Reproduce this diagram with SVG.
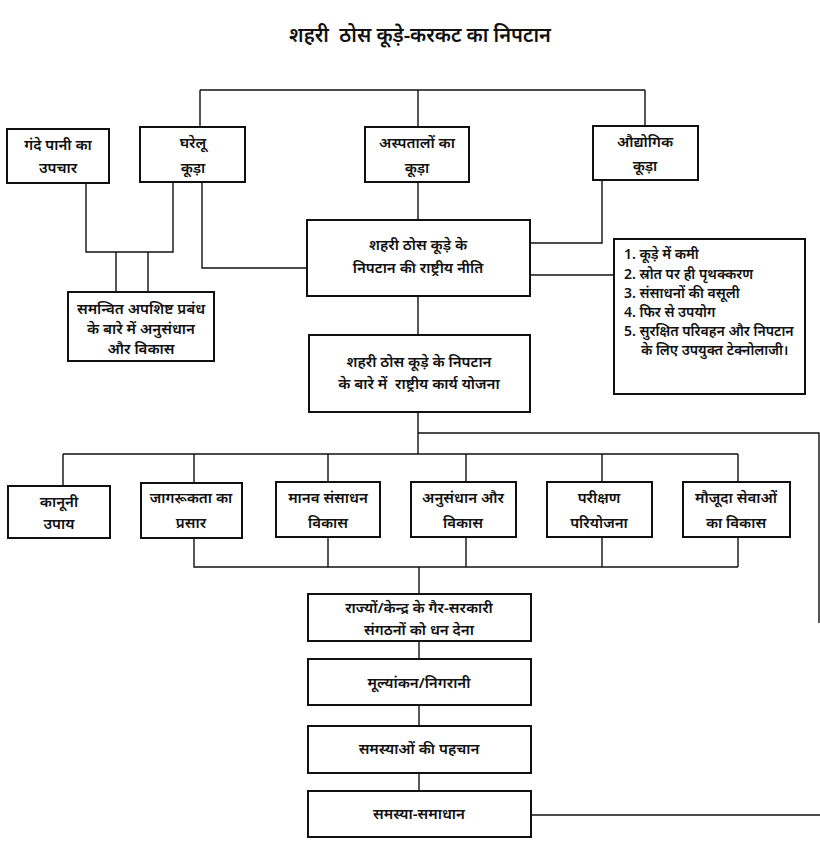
<svg xmlns="http://www.w3.org/2000/svg" width="820" height="850" viewBox="0 0 820 850">
<style>
  .bg { fill: #ffffff; }
  .box { fill: #ffffff; stroke: #111; stroke-width: 2; }
  .ln { fill: none; stroke: #111; stroke-width: 1.4; }
  .t { font-family: "Noto Sans", "Noto Sans Devanagari", "Liberation Sans", sans-serif; font-size: 15px; fill: #111; text-anchor: middle; font-weight: 600; }
  .tl { font-family: "Noto Sans", "Noto Sans Devanagari", "Liberation Sans", sans-serif; font-size: 14px; fill: #111; text-anchor: start; font-weight: 600; }
  .title { font-family: "Noto Sans", "Noto Sans Devanagari", "Liberation Sans", sans-serif; font-size: 20px; fill: #111; text-anchor: middle; font-weight: 600; }
</style>
<rect class="bg" x="0" y="0" width="820" height="850"/>
<text class="title" x="420" y="42" xml:space="preserve">शहरी  ठोस कूड़े-करकट का निपटान</text>

<g id="connectors">
  <path class="ln" d="M200,90 H645 M200,90 V127 M418,90 V127 M645,90 V126"/>
  <path class="ln" d="M418,182 V220"/>
  <path class="ln" d="M602,180 V243 H530"/>
  <path class="ln" d="M202,182 V268 H307"/>
  <path class="ln" d="M530,275 H614"/>
  <path class="ln" d="M86,183 V252 H173 V182 M116,252 V292 M148,252 V292"/>
  <path class="ln" d="M418,296 V335"/>
  <path class="ln" d="M418,412 V454 M418,433 H819 V623"/>
  <path class="ln" d="M63,454 H738 M63,454 V486 M194,454 V483 M328,454 V482 M466,454 V482 M602,454 V482 M738,454 V482"/>
  <path class="ln" d="M194,538 V567 H738 M328,537 V567 M466,537 V567 M602,537 V567 M738,537 V567 M419,567 V594"/>
  <path class="ln" d="M419,641 V659 M419,705 V726 M419,773 V791"/>
  <path class="ln" d="M531,815 H820"/>
</g>

<g id="n-sewage">
  <rect class="box" x="7" y="129" width="102" height="54"/>
  <text class="t" x="58" y="150">गंदे पानी का</text>
  <text class="t" x="58" y="173">उपचार</text>
</g>
<g id="n-domestic">
  <rect class="box" x="140" y="127" width="105" height="55"/>
  <text class="t" x="193" y="148">घरेलू</text>
  <text class="t" x="193" y="173">कूड़ा</text>
</g>
<g id="n-hospital">
  <rect class="box" x="365" y="127" width="104" height="55"/>
  <text class="t" x="417" y="148">अस्पतालों का</text>
  <text class="t" x="417" y="173">कूड़ा</text>
</g>
<g id="n-industrial">
  <rect class="box" x="593" y="126" width="105" height="54"/>
  <text class="t" x="645" y="147">औद्योगिक</text>
  <text class="t" x="645" y="171">कूड़ा</text>
</g>
<g id="n-policy">
  <rect class="box" x="307" y="220" width="223" height="76"/>
  <text class="t" x="418" y="250">शहरी ठोस कूड़े के</text>
  <text class="t" x="418" y="273">निपटान की राष्ट्रीय नीति</text>
</g>
<g id="n-list">
  <rect class="box" x="614" y="239" width="191" height="155"/>
  <text class="tl" x="624" y="259">1. कूड़े में कमी</text>
  <text class="tl" x="624" y="279">2. स्रोत पर ही पृथक्करण</text>
  <text class="tl" x="624" y="298">3. संसाधनों की वसूली</text>
  <text class="tl" x="624" y="317">4. फिर से उपयोग</text>
  <text class="tl" x="624" y="336">5. सुरक्षित परिवहन और निपटान</text>
  <text class="tl" x="641" y="355">के लिए उपयुक्त टेक्नोलाजी।</text>
</g>
<g id="n-research-left">
  <rect class="box" x="68" y="292" width="146" height="69"/>
  <text class="t" x="141" y="314">समन्वित अपशिष्ट प्रबंध</text>
  <text class="t" x="141" y="334">के बारे में अनुसंधान</text>
  <text class="t" x="141" y="354">और विकास</text>
</g>
<g id="n-plan">
  <rect class="box" x="309" y="335" width="221" height="77"/>
  <text class="t" x="419" y="367">शहरी ठोस कूड़े के निपटान</text>
  <text class="t" x="419" y="389" xml:space="preserve">के बारे में  राष्ट्रीय कार्य योजना</text>
</g>
<g id="n-legal">
  <rect class="box" x="8" y="486" width="102" height="52"/>
  <text class="t" x="59" y="507">कानूनी</text>
  <text class="t" x="59" y="529">उपाय</text>
</g>
<g id="n-awareness">
  <rect class="box" x="141" y="483" width="101" height="55"/>
  <text class="t" x="191" y="503">जागरूकता का</text>
  <text class="t" x="191" y="528">प्रसार</text>
</g>
<g id="n-hrd">
  <rect class="box" x="276" y="482" width="104" height="55"/>
  <text class="t" x="328" y="503">मानव संसाधन</text>
  <text class="t" x="328" y="528">विकास</text>
</g>
<g id="n-rnd">
  <rect class="box" x="411" y="482" width="105" height="55"/>
  <text class="t" x="463" y="503">अनुसंधान और</text>
  <text class="t" x="463" y="528">विकास</text>
</g>
<g id="n-pilot">
  <rect class="box" x="547" y="482" width="105" height="55"/>
  <text class="t" x="599" y="503">परीक्षण</text>
  <text class="t" x="599" y="528">परियोजना</text>
</g>
<g id="n-existing">
  <rect class="box" x="683" y="482" width="107" height="55"/>
  <text class="t" x="736" y="503">मौजूदा सेवाओं</text>
  <text class="t" x="736" y="528">का विकास</text>
</g>
<g id="n-funding">
  <rect class="box" x="308" y="594" width="223" height="47"/>
  <text class="t" x="419" y="613">राज्यों/केन्द्र के गैर-सरकारी</text>
  <text class="t" x="419" y="635">संगठनों को धन देना</text>
</g>
<g id="n-eval">
  <rect class="box" x="308" y="659" width="223" height="46"/>
  <text class="t" x="419" y="688">मूल्यांकन/निगरानी</text>
</g>
<g id="n-problems">
  <rect class="box" x="308" y="726" width="223" height="47"/>
  <text class="t" x="419" y="754">समस्याओं की पहचान</text>
</g>
<g id="n-solution">
  <rect class="box" x="308" y="791" width="223" height="46"/>
  <text class="t" x="419" y="819">समस्या-समाधान</text>
</g>
</svg>
